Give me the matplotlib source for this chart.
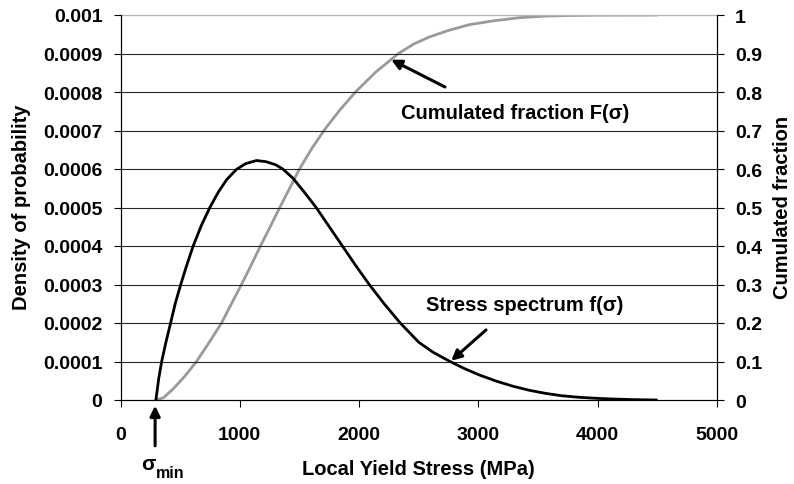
import matplotlib
matplotlib.use("Agg")
import matplotlib.pyplot as plt

# Stress spectrum f(sigma) (density, left axis)
stress_f = [297, 320, 345, 380, 420, 460, 505, 550, 609, 680, 749, 820, 889, 972, 1050,
            1140, 1220, 1300, 1360, 1446, 1540, 1640, 1750, 1860, 1970, 2085, 2210, 2345,
            2500, 2620, 2750, 2880, 3008, 3150, 3287, 3430, 3567, 3700, 3845, 4000, 4124,
            4300, 4490]
density = [0.0, 0.000055, 0.0001, 0.000149, 0.0002, 0.000252, 0.0003, 0.000345, 0.0004,
           0.000455, 0.0005, 0.00054, 0.000572, 0.000599, 0.000614, 0.000622, 0.000619,
           0.000611, 0.0006, 0.000576, 0.00054, 0.0005, 0.00045, 0.0004, 0.00035, 0.0003,
           0.00025, 0.0002, 0.00015, 0.000124, 0.000102, 0.000082, 0.000065, 0.000049,
           0.000036, 0.000025, 0.000017, 0.000011, 0.000007, 0.0000042, 0.0000026,
           0.000001, 0.0]

# Cumulated fraction F(sigma) (right axis)
stress_F = [297, 360, 442, 540, 637, 740, 847, 930, 1014, 1095, 1173, 1255, 1335, 1418,
            1500, 1605, 1715, 1835, 1970, 2140, 2330, 2460, 2590, 2750, 2925, 3130, 3343,
            3550, 3734, 4000, 4490]
cumul = [0.0, 0.006, 0.029, 0.062, 0.1, 0.148, 0.2, 0.25, 0.3, 0.35, 0.4, 0.45, 0.5, 0.55,
         0.6, 0.654, 0.704, 0.752, 0.8, 0.852, 0.9, 0.925, 0.943, 0.96, 0.975, 0.985, 0.993,
         0.997, 0.9985, 0.9996, 1.0]

sigma_min = 290

left_ticks = [0, 0.0001, 0.0002, 0.0003, 0.0004, 0.0005, 0.0006, 0.0007, 0.0008, 0.0009, 0.001]
left_labels = ["0", "0.0001", "0.0002", "0.0003", "0.0004", "0.0005", "0.0006", "0.0007",
               "0.0008", "0.0009", "0.001"]
right_ticks = [0, 0.1, 0.2, 0.3, 0.4, 0.5, 0.6, 0.7, 0.8, 0.9, 1.0]
right_labels = ["0", "0.1", "0.2", "0.3", "0.4", "0.5", "0.6", "0.7", "0.8", "0.9", "1"]
x_ticks = [0, 1000, 2000, 3000, 4000, 5000]

plt.rcParams['font.family'] = ['Liberation Sans', 'DejaVu Sans']
plt.rcParams['font.weight'] = 'bold'

W, H = 794, 485
fig = plt.figure(figsize=(W / 100, H / 100), dpi=100)
ax = fig.add_axes([120.5 / W, 1 - 401 / H, (717 - 120.5) / W, (401 - 16) / H])
ax2 = ax.twinx()

ax.set_xlim(0, 5000)
ax.set_ylim(0, 0.001)
ax2.set_ylim(0, 1)

for y in left_ticks[1:-1]:
    ax.axhline(y, color='#262626', lw=0.8, zorder=0)
ax.axhline(left_ticks[-1], color='#b8b8b8', lw=1.0, zorder=0, clip_on=False)

ax.plot(stress_f, density, color='black', lw=2, zorder=3)
ax2.plot(stress_F, cumul, color='#9a9a9a', lw=2, zorder=2)
ax.set_zorder(ax2.get_zorder() + 1)
ax.patch.set_visible(False)

for a in (ax, ax2):
    a.spines['top'].set_visible(False)
    for s in ('left', 'right', 'bottom'):
        a.spines[s].set_linewidth(0.8)

ax.set_xticks(x_ticks)
ax.set_xticklabels([str(t) for t in x_ticks], fontsize=14, fontweight='bold')
ax.set_yticks(left_ticks)
ax.set_yticklabels(left_labels, fontsize=14, fontweight='bold')
ax2.set_yticks(right_ticks)
ax2.set_yticklabels(right_labels, fontsize=14, fontweight='bold')
ax.tick_params(axis='x', direction='out', length=5, width=0.8, pad=13.5)
ax.tick_params(axis='y', direction='out', length=5, width=0.8, pad=8)
ax2.tick_params(axis='y', direction='out', length=5, width=0.8, pad=8)

fig.text(418 / W, 1 - 470 / H, "Local Yield Stress (MPa)", fontsize=14.5,
         fontweight='bold', ha='center', va='center')
fig.text(21.5 / W, 1 - 207 / H, "Density of probability", fontsize=14.5,
         fontweight='bold', ha='center', va='center', rotation=90)
fig.text(782 / W, 1 - 207 / H, "Cumulated fraction", fontsize=14.5,
         fontweight='bold', ha='center', va='center', rotation=90)

arrow = dict(arrowstyle='-|>', lw=2.2, color='black', mutation_scale=15, shrinkA=0, shrinkB=0)
ax2.annotate("", xy=(2269, 0.884), xytext=(2720, 0.813), arrowprops=arrow)
ax2.text(2353, 0.748, "Cumulated fraction F(σ)", fontsize=14.5, fontweight='bold',
         ha='left', va='center')
ax.annotate("", xy=(2772, 0.000102), xytext=(3064, 0.000182), arrowprops=arrow)
ax.text(2562, 0.000247, "Stress spectrum f(σ)", fontsize=14.5, fontweight='bold',
        ha='left', va='center')

ax.annotate("", xy=(sigma_min, -0.015), xytext=(sigma_min, -0.119),
            xycoords=('data', 'axes fraction'), textcoords=('data', 'axes fraction'),
            arrowprops=arrow, annotation_clip=False)
fig.text(155.5 / W, 1 - 465 / H, "σ", fontsize=15, fontweight='bold',
         ha='right', va='center')
fig.text(155.5 / W, 1 - 474 / H, "min", fontsize=11.5, fontweight='bold',
         ha='left', va='center')

fig.savefig("out.png", dpi=100)
